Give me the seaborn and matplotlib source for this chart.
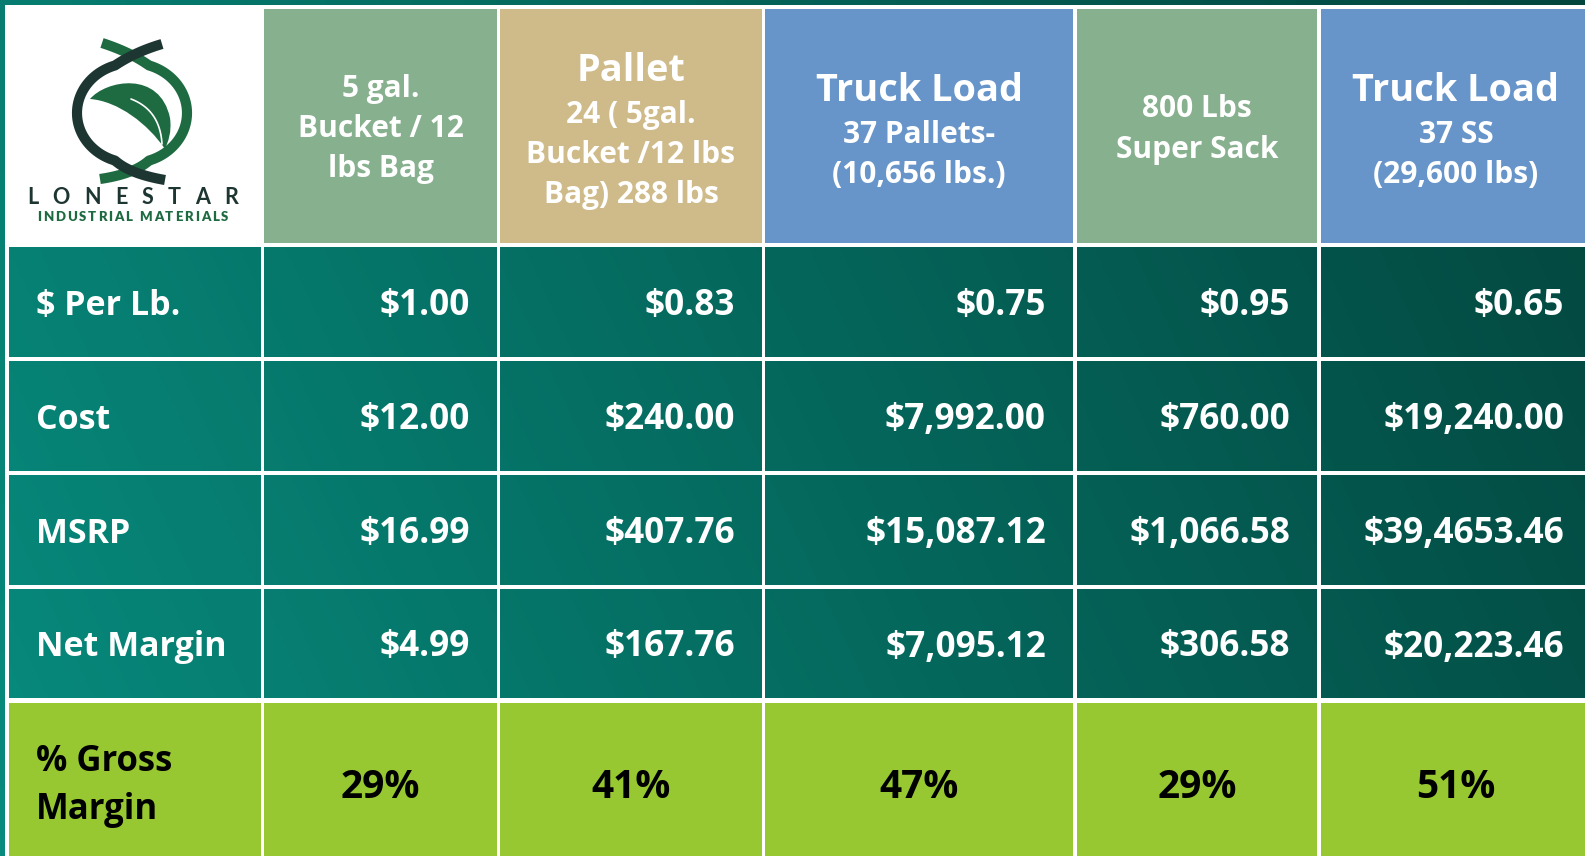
import matplotlib
matplotlib.use("Agg")
import matplotlib.pyplot as plt
from matplotlib.patches import Rectangle, PathPatch
from matplotlib.path import Path
import numpy as np
import seaborn as sns

# ---------------- data ----------------
row_labels = ["$ Per Lb.", "Cost", "MSRP", "Net Margin"]
gross_label = ["% Gross", "Margin"]
col_titles = ["", "Pallet", "Truck Load", "", "Truck Load"]
col_subs = [
    ["5 gal.", "Bucket / 12", "lbs Bag"],
    ["24 ( 5gal.", "Bucket /12 lbs", "Bag) 288 lbs"],
    ["37 Pallets-", "(10,656 lbs.)"],
    ["800 Lbs", "Super Sack"],
    ["37 SS", "(29,600 lbs)"],
]
per_lb = ["$1.00", "$0.83", "$0.75", "$0.95", "$0.65"]
cost = ["$12.00", "$240.00", "$7,992.00", "$760.00", "$19,240.00"]
msrp = ["$16.99", "$407.76", "$15,087.12", "$1,066.58", "$39,4653.46"]
net_margin = ["$4.99", "$167.76", "$7,095.12", "$306.58", "$20,223.46"]
gross_margin = ["29%", "41%", "47%", "29%", "51%"]
brand = "LONESTAR"
brand_sub = "INDUSTRIAL MATERIALS"

# ---------------- style / layout ----------------
header_colors = ["#87b08e", "#cfba8a", "#6795c9", "#87b08e", "#6795c9"]
green_row = "#97c731"
grad_light, grad_dark = "#078b7d", "#03463e"
logo_dark, logo_green = "#1e3632", "#1e6b42"

W, H = 1585, 856
col_edges = [(9, 261), (264, 497), (500, 762), (765, 1073), (1077, 1317), (1321, 1591)]
row_edges = [(9, 243), (247, 357), (361, 471), (475, 585), (589, 698), (703, 860)]
header_line_y = [[89, 129, 169], [71, 115, 155, 195], [91, 135, 175], [109, 150], [91, 135, 175]]

sns.set_theme(style="white")
plt.rcParams["font.family"] = ["Open Sans", "DejaVu Sans"]

fig = plt.figure(figsize=(W / 100, H / 100), dpi=100)
ax = fig.add_axes([0, 0, 1, 1])
ax.set_xlim(0, W)
ax.set_ylim(H, 0)
ax.axis("off")

# gradient background
cmap = sns.blend_palette([grad_light, grad_dark], as_cmap=True)
gx, gy = np.meshgrid(np.linspace(0, 1, 200), np.linspace(0, 1, 120))
tgrid = 0.8 * gx + 0.2 * (1 - gy)
ax.imshow(tgrid, cmap=cmap, vmin=0, vmax=1, extent=(0, W, H, 0),
          aspect="auto", interpolation="bilinear", zorder=0)

# white gaps between cells
vgaps = [(5, col_edges[0][0])] + [(col_edges[i][1], col_edges[i + 1][0]) for i in range(len(col_edges) - 1)]
hgaps = [(5, row_edges[0][0])] + [(row_edges[i][1], row_edges[i + 1][0]) for i in range(len(row_edges) - 1)]
for a, b in vgaps:
    ax.add_patch(Rectangle((a, 5), b - a, H, color="white", lw=0, zorder=1))
for a, b in hgaps:
    ax.add_patch(Rectangle((5, a), W, b - a, color="white", lw=0, zorder=1))

# logo cell
ax.add_patch(Rectangle((5, 5), col_edges[0][1] - 5, row_edges[0][1] - 5, color="white", lw=0, zorder=1))

# header cells
for j, (x0, x1) in enumerate(col_edges[1:]):
    y0, y1 = row_edges[0]
    ax.add_patch(Rectangle((x0, y0), x1 - x0, y1 - y0, color=header_colors[j], lw=0, zorder=2))
    lines = ([col_titles[j]] if col_titles[j] else []) + col_subs[j]
    cx = (x0 + x1) / 2
    for k, (txt, yy) in enumerate(zip(lines, header_line_y[j])):
        big = bool(col_titles[j]) and k == 0
        ax.text(cx, yy, txt, ha="center", va="center", color="white",
                fontsize=27.3 if big else 21.5, fontweight="bold", zorder=3)

# data rows
data_rows = [per_lb, cost, msrp, net_margin]
for i, (label, vals) in enumerate(zip(row_labels, data_rows)):
    y0, y1 = row_edges[i + 1]
    cy = (y0 + y1) / 2 + 4
    ax.text(36, cy, label, ha="left", va="center", color="white",
            fontsize=24.5, fontweight="bold", zorder=3)
    for j, v in enumerate(vals):
        x0, x1 = col_edges[j + 1]
        ax.text(x1 - 27, cy, v, ha="right", va="center", color="white",
                fontsize=25.3, fontweight="bold", zorder=3)

# gross margin row
y0, y1 = row_edges[5]
for (x0, x1) in col_edges:
    ax.add_patch(Rectangle((x0, y0), x1 - x0, y1 - y0, color=green_row, lw=0, zorder=2))
ax.text(36, 762, gross_label[0], ha="left", va="center", color="black",
        fontsize=25, fontweight="bold", zorder=3)
ax.text(36, 810, gross_label[1], ha="left", va="center", color="black",
        fontsize=25, fontweight="bold", zorder=3)
for j, v in enumerate(gross_margin):
    x0, x1 = col_edges[j + 1]
    ax.text((x0 + x1) / 2, 788, v, ha="center", va="center", color="black",
            fontsize=28, fontweight="bold", zorder=3)

# ---------------- logo ----------------
cx, cy, a, b = 132, 113, 55, 50


def arc(t0, t1, n=60):
    t = np.radians(np.linspace(t0, t1, n))
    return np.column_stack([cx + a * np.cos(t), cy - b * np.sin(t)])


def quad(p0, c, p1, n=25):
    s = np.linspace(0, 1, n)[:, None]
    p0, c, p1 = map(np.asarray, (p0, c, p1))
    return (1 - s) ** 2 * p0 + 2 * (1 - s) * s * c + s ** 2 * p1


dark_arc = arc(108, 252)
dark = np.vstack([quad((162, 44), (135, 52), dark_arc[0]), dark_arc,
                  quad(dark_arc[-1], (130, 174), (165, 180))])
green_arc = arc(72, -72)
green = np.vstack([quad((102, 43), (130, 52), green_arc[0]), green_arc,
                   quad(green_arc[-1], (134, 174), (100, 179))])
ax.plot(green[:, 0], green[:, 1], color=logo_green, lw=7.3, solid_capstyle="butt", zorder=4)
ax.plot(dark[:, 0], dark[:, 1], color=logo_dark, lw=7.3, solid_capstyle="butt", zorder=4)

leaf = Path([(90, 99), (106, 80), (160, 70), (170, 118),
             (172, 132), (168, 142), (165, 149),
             (148, 124), (118, 101), (90, 99)],
            [Path.MOVETO, Path.CURVE4, Path.CURVE4, Path.CURVE4,
             Path.CURVE4, Path.CURVE4, Path.CURVE4,
             Path.CURVE4, Path.CURVE4, Path.CURVE4])
ax.add_patch(PathPatch(leaf, facecolor=logo_green, edgecolor="none", zorder=5))
vein = quad((131, 99), (160, 110), (162, 144))
ax.plot(vein[:, 0], vein[:, 1], color="white", lw=1.2, zorder=6)

renderer = fig.canvas.get_renderer()


def tracked(s, x0, x1, y, space_w, **kw):
    items = []
    for ch in s:
        t = ax.text(0, y, ch, ha="left", va="baseline", zorder=6, **kw)
        w = space_w if ch == " " else t.get_window_extent(renderer).width
        items.append((t, w))
    gap = (x1 - x0 - sum(w for _, w in items)) / (len(items) - 1)
    x = x0
    for t, w in items:
        t.set_x(x)
        x += w + gap


tracked(brand, 27, 238, 204, 0, fontsize=15.5, color=logo_dark,
        family=["Lato", "DejaVu Sans"], fontweight="bold")
tracked(brand_sub, 37, 228, 221, 3, fontsize=9.5, color=logo_green,
        family=["Lato", "DejaVu Sans"], fontweight="heavy")

fig.savefig("out.png", dpi=100)
